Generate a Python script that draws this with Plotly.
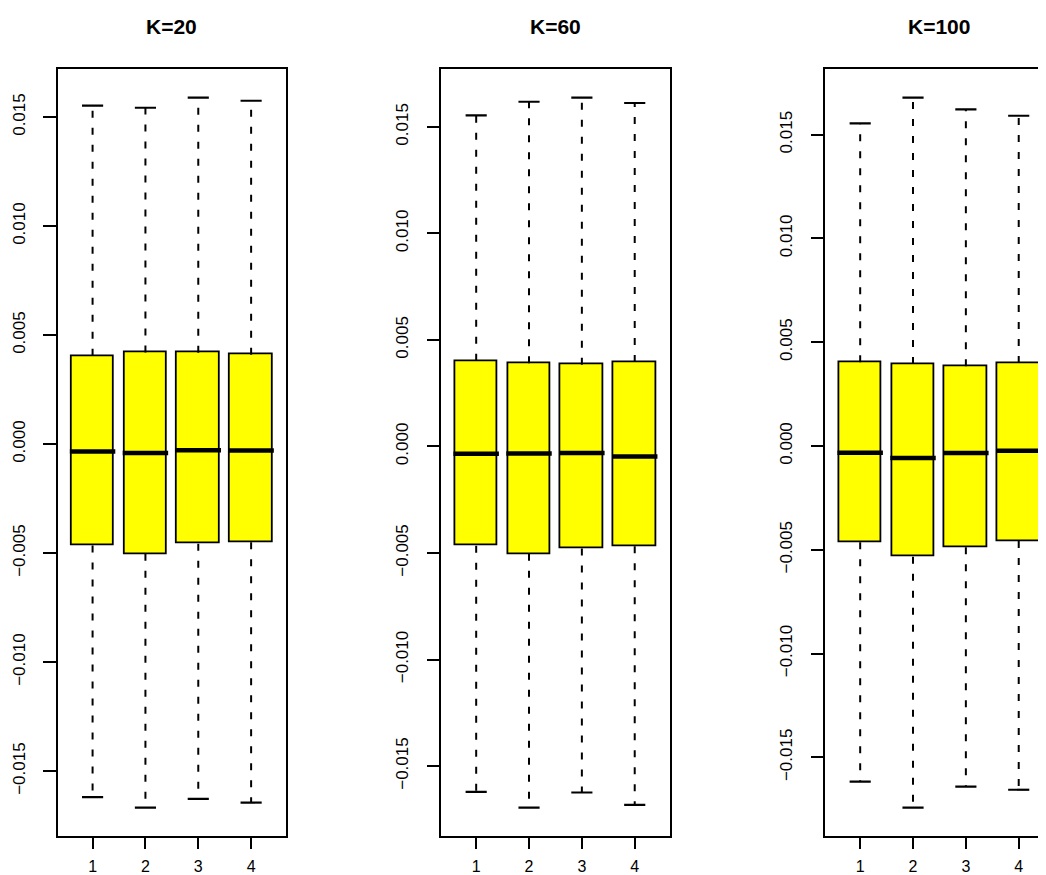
import plotly.graph_objects as go

# ---------------- data ----------------
titles = ["K=20", "K=60", "K=100"]
groups = [1, 2, 3, 4]

k20_upper = [0.01553, 0.01543, 0.01589, 0.01575]
k20_q3 = [0.00405, 0.00420, 0.00419, 0.00410]
k20_median = [-0.00034, -0.00041, -0.00028, -0.00029]
k20_q1 = [-0.00465, -0.00503, -0.00457, -0.00450]
k20_lower = [-0.01619, -0.01667, -0.01627, -0.01644]

k60_upper = [0.01554, 0.01618, 0.01637, 0.01612]
k60_q3 = [0.00402, 0.00391, 0.00384, 0.00396]
k60_median = [-0.00034, -0.00033, -0.00031, -0.00047]
k60_q1 = [-0.00466, -0.00504, -0.00479, -0.00468]
k60_lower = [-0.01621, -0.01695, -0.01624, -0.01682]

k100_upper = [0.01554, 0.01678, 0.01622, 0.01591]
k100_q3 = [0.00403, 0.00395, 0.00384, 0.00400]
k100_median = [-0.00032, -0.00058, -0.00034, -0.00023]
k100_q1 = [-0.00464, -0.00533, -0.00488, -0.00458]
k100_lower = [-0.01617, -0.01742, -0.01641, -0.01656]

ytick_vals = [-0.015, -0.010, -0.005, 0.000, 0.005, 0.010, 0.015]
ytick_text = ["\u22120.015", "\u22120.010", "\u22120.005", "0.000", "0.005", "0.010", "0.015"]
xtick_text = ["1", "2", "3", "4"]

panels = [
    (k20_upper, k20_q3, k20_median, k20_q1, k20_lower),
    (k60_upper, k60_q3, k60_median, k60_q1, k60_lower),
    (k100_upper, k100_q3, k100_median, k100_q1, k100_lower),
]

# ---------------- layout geometry ----------------
W, H = 1046, 875
OFF = 8  # page body margin in which the figure sits
FONT = "Liberation Sans, Arial, Helvetica, sans-serif"
px_left = [57.7 - OFF, 441.3 - OFF, 825.3 - OFF]
panel_w = 228.3
top_px, bot_px = 69.3 - OFF, 836.0 - OFF
ydom = [1 - bot_px / H, 1 - top_px / H]
x_lo, x_hi = 0.34, 4.66

BOXW = 0.8
STAPLE = 0.4
LW = 1.8

fig = go.Figure()
layout = dict(
    width=W, height=H,
    margin=dict(l=0, r=0, t=0, b=0),
    paper_bgcolor="white", plot_bgcolor="white",
    showlegend=False,
    font=dict(family=FONT, color="black", size=16),
    bargap=0,
    annotations=[],
)

for p, (up, q3, med, q1, lo) in enumerate(panels):
    ax = "" if p == 0 else str(p + 1)
    xref, yref = "x" + ax, "y" + ax
    left = px_left[p]
    right = min(left + panel_w, W)

    # box bodies
    fig.add_trace(go.Bar(
        x=groups, y=[a - b for a, b in zip(q3, q1)], base=q1, width=BOXW,
        marker=dict(color="#FFFF00", line=dict(color="black", width=LW)),
        xaxis=xref, yaxis=yref, hoverinfo="skip",
    ))
    # dashed whiskers
    wx, wy = [], []
    for g, a, b, c, d in zip(groups, up, q3, q1, lo):
        wx += [g, g, None, g, g, None]
        wy += [b, a, None, c, d, None]
    fig.add_trace(go.Scatter(
        x=wx, y=wy, mode="lines",
        line=dict(color="black", width=2, dash="7px,10px"),
        xaxis=xref, yaxis=yref, hoverinfo="skip",
    ))
    # staples
    sx, sy = [], []
    for g, a, d in zip(groups, up, lo):
        sx += [g - STAPLE / 2, g + STAPLE / 2, None, g - STAPLE / 2, g + STAPLE / 2, None]
        sy += [a, a, None, d, d, None]
    fig.add_trace(go.Scatter(
        x=sx, y=sy, mode="lines", line=dict(color="black", width=2.2),
        xaxis=xref, yaxis=yref, hoverinfo="skip",
    ))
    # medians
    mx, my = [], []
    for g, m in zip(groups, med):
        mx += [g - BOXW / 2 - 0.03, g + BOXW / 2 + 0.03, None]
        my += [m, m, None]
    fig.add_trace(go.Scatter(
        x=mx, y=my, mode="lines", line=dict(color="black", width=4.5),
        xaxis=xref, yaxis=yref, hoverinfo="skip",
    ))

    allv = up + lo
    span = max(allv) - min(allv)
    yr = [min(allv) - 0.04 * span, max(allv) + 0.04 * span]

    layout["xaxis" + ax] = dict(
        domain=[left / W, right / W], range=[x_lo, x_hi],
        anchor=yref, showline=True, linecolor="black", linewidth=LW,
        mirror=True, ticks="outside", ticklen=11, tickwidth=LW, tickcolor="black",
        tickvals=groups, ticktext=xtick_text, showgrid=False, zeroline=False,
        tickfont=dict(size=16, family=FONT), ticklabelstandoff=4, automargin=False,
    )
    layout["yaxis" + ax] = dict(
        domain=ydom, range=yr, anchor=xref,
        showline=True, linecolor="black", linewidth=LW,
        mirror=True, ticks="outside", ticklen=12.5, tickwidth=LW, tickcolor="black",
        tickvals=ytick_vals, ticktext=ytick_text, tickangle=-90,
        showgrid=False, zeroline=False, tickfont=dict(size=17, family=FONT),
        ticklabelstandoff=12, automargin=False,
    )
    layout["annotations"].append(dict(
        text="<b>%s</b>" % titles[p], xref="paper", yref="paper",
        x=(left + panel_w / 2) / W, y=1 - (27 - OFF) / H, xanchor="center", yanchor="middle",
        showarrow=False, font=dict(size=21, family=FONT, color="black"),
    ))

fig.update_layout(**layout)
fig.write_html("out.html")
